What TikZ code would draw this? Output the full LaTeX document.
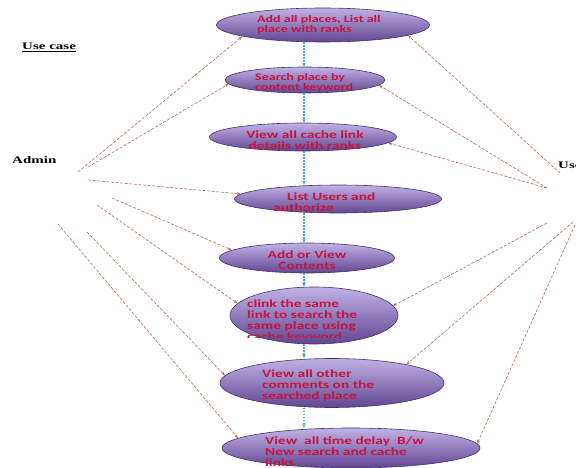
\documentclass[tikz,border=0pt]{standalone}
\usepackage{fontspec}
\setmainfont{Liberation Serif}
\newfontfamily\ucfont[FakeStretch=1.4]{Carlito}
\newfontfamily\lblfont[FakeStretch=1.5]{Liberation Serif}
\usetikzlibrary{shapes.geometric,arrows.meta}
\definecolor{ucred}{RGB}{200,20,60}
\definecolor{uctop}{RGB}{192,178,230}
\definecolor{ucbot}{RGB}{98,70,145}
\definecolor{ucedge}{RGB}{70,50,105}
\definecolor{flowc}{RGB}{75,170,200}
\definecolor{linkc}{RGB}{185,105,85}
\begin{document}
\begin{tikzpicture}[x=1pt,y=-1pt,
  uc/.style={ellipse, draw=ucedge, line width=0.6pt, top color=uctop, bottom color=ucbot, inner sep=0pt},
  uctext/.style={font=\ucfont\bfseries\fontsize{11}{11}\selectfont, text=ucred, align=left, inner sep=0pt},
  small/.style={font=\ucfont\bfseries\fontsize{10}{10}\selectfont},
  flow/.style={draw=flowc, line width=1.1pt, dash pattern=on 1.5pt off 1.5pt, -{Stealth[length=4pt,width=4pt]}},
  link/.style={draw=linkc, line width=0.6pt, dash pattern=on 3pt off 1.6pt, -{Stealth[length=4pt,width=3pt]}},
  actor/.style={font=\lblfont\bfseries\fontsize{10}{12}\selectfont, inner sep=0pt}]
\useasboundingbox (0,0) rectangle (576,468);
\clip (0,0) rectangle (576,468);

% use cases
\node[uc, minimum width=213pt, minimum height=34pt] (e1) at (323,25) {};
\node[uc, minimum width=160pt, minimum height=26pt] (e2) at (305,80) {};
\node[uc, minimum width=187pt, minimum height=28pt] (e3) at (303,137) {};
\node[uc, minimum width=207pt, minimum height=28pt] (e4) at (338,199) {};
\node[uc, minimum width=175pt, minimum height=30pt] (e5) at (307,258) {};
\node[uc, minimum width=168pt, minimum height=57pt] (e6) at (314,315.5) {};
\node[uc, minimum width=224pt, minimum height=49pt] (e7) at (332,383) {};
\node[uc, minimum width=258pt, minimum height=40pt] (e8) at (351,448) {};

% texts
\node[uctext, small, anchor=west] (t1) at (257,25) {Add all places, List all\\place with ranks};
\node[uctext, small, font=\ucfont\bfseries\fontsize{10}{9.5}\selectfont, anchor=west] (t2) at (255,83) {Search place by\\content keyword};
\node[uctext, align=center] (t3) at (305,140) {View all cache link\\details with ranks};
\node[uctext, anchor=west] (t4) at (273,202) {\hspace*{14pt}List Users and\\authorize};
\node[uctext, align=center] (t5) at (307,260) {Add or View\\Contents};
\begin{scope}
  \clip (200,280) rectangle (420,337.5);
  \node[uctext, anchor=west] (t6) at (247,321.5) {clink the same\\link to search the\\same place using\\cache keyword};
\end{scope}
\node[uctext, anchor=west] (t7) at (262,385.5) {View all other\\comments on the\\searched place};
\node[uctext, anchor=west] (t8) at (265,451.5) {View\ \ all time delay\ \ B/w\\New search and cache\\links};

% actors and title
\node[actor, anchor=west] (usecase) at (22,47) {\underline{Use case}};
\node[actor, anchor=west] (admin) at (12,160) {Admin};
\node[actor, anchor=west] (user) at (558,165) {User};

% flow between use cases
\coordinate (axis) at (304,0);
\draw[flow] (e1.south -| axis) -- (e2.north -| axis);
\draw[flow] (e2.south -| axis) -- (e3.north -| axis);
\draw[flow] (e3.south -| axis) -- (e4.north -| axis);
\draw[flow] (e4.south -| axis) -- (e5.north -| axis);
\draw[flow] (e5.south -| axis) -- (e6.north -| axis);
\draw[flow] (e6.south -| axis) -- (e7.north -| axis);
\draw[flow] (e7.south -| axis) -- (e8.north -| axis);

% admin links
\coordinate (a1) at (78,172);
\coordinate (a2) at (88,167);
\coordinate (a3) at (88,180);
\coordinate (a4) at (112,198);
\coordinate (a5) at (97,205);
\coordinate (a6) at (87,232);
\coordinate (a7) at (58,224);
\draw[link] (a1) -- (e1.188);
\draw[link] (a2) -- (e2.183);
\draw[link] (a3) -- (e4.177);
\draw[link] (a4) -- (e5.174);
\draw[link] (a5) -- (e6.171);
\draw[link] (a6) -- (e7.176);
\draw[link] (a7) -- (e8.175);

% user links
\coordinate (u1) at (560,173);
\coordinate (u2) at (547,188);
\coordinate (u3) at (573,222);
\coordinate (u4) at (547,223);
\coordinate (u5) at (575,225);
\draw[link] (u1) -- (e1.353);
\draw[link] (u2) -- (e2.356);
\draw[link] (u2) -- (e3.356);
\draw[link] (u4) -- (e6.7);
\draw[link] (u3) -- (e7.14);
\draw[link] (u5) -- (e8.2);
\end{tikzpicture}
\end{document}
